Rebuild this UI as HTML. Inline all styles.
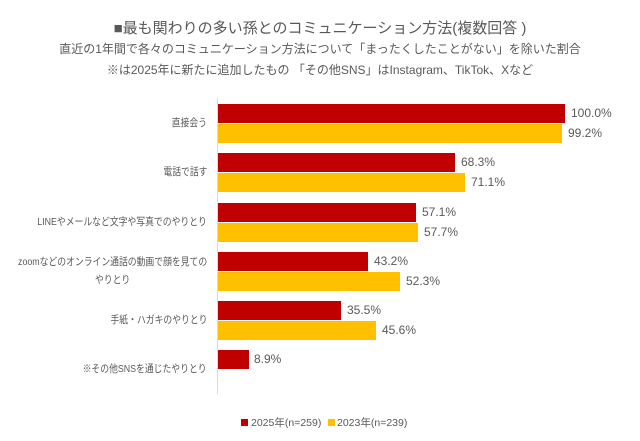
<!DOCTYPE html>
<html><head><meta charset="utf-8"><style>
body{margin:0;background:#fff;width:640px;height:441px;overflow:hidden;position:relative;font-family:"Liberation Sans","Noto Sans CJK JP",sans-serif;color:#595959}
.t{position:absolute;left:0;width:640px;text-align:center;white-space:nowrap}
.b{position:absolute;left:218px;height:19px}
.r{background:#c00000}.y{background:#ffc000}
.v{position:absolute;font-size:12px;color:#595959}
.l{position:absolute;right:433px;font-size:10.5px;text-align:center;color:#595959;line-height:18px;white-space:nowrap;transform:scaleX(0.84);transform-origin:right center}
</style></head><body>
<div class="t" style="top:17px;font-size:15px;color:#595959">■最も関わりの多い孫とのコミュニケーション方法(複数回答 )</div>
<div class="t" style="top:40px;font-size:12px">直近の1年間で各々のコミュニケーション方法について「まったくしたことがない」を除いた割合</div>
<div class="t" style="top:61px;font-size:12px">※は2025年に新たに追加したもの 「その他SNS」はInstagram、TikTok、Xなど</div>
<div style="position:absolute;left:217px;top:98px;width:1px;height:296px;background:#d9d9d9"></div>

<div class="b r" style="top:104px;width:347px"></div><div class="v" style="left:571px;top:106px">100.0%</div>
<div class="b y" style="top:124px;width:344px"></div><div class="v" style="left:568px;top:126px">99.2%</div>
<div class="l" style="top:114px">直接会う</div>

<div class="b r" style="top:153px;width:237px"></div><div class="v" style="left:461px;top:155px">68.3%</div>
<div class="b y" style="top:173px;width:247px"></div><div class="v" style="left:471px;top:175px">71.1%</div>
<div class="l" style="top:163px">電話で話す</div>

<div class="b r" style="top:203px;width:198px"></div><div class="v" style="left:422px;top:205px">57.1%</div>
<div class="b y" style="top:223px;width:200px"></div><div class="v" style="left:424px;top:225px">57.7%</div>
<div class="l" style="top:213px">LINEやメールなど文字や写真でのやりとり</div>

<div class="b r" style="top:252px;width:150px"></div><div class="v" style="left:374px;top:254px">43.2%</div>
<div class="b y" style="top:272px;width:182px"></div><div class="v" style="left:406px;top:274px">52.3%</div>
<div class="l" style="top:253px">zoomなどのオンライン通話の動画で顔を見ての<br>やりとり</div>

<div class="b r" style="top:301px;width:123px"></div><div class="v" style="left:347px;top:303px">35.5%</div>
<div class="b y" style="top:321px;width:158px"></div><div class="v" style="left:382px;top:323px">45.6%</div>
<div class="l" style="top:311px">手紙・ハガキのやりとり</div>

<div class="b r" style="top:350px;width:31px"></div><div class="v" style="left:254px;top:352px">8.9%</div>
<div class="l" style="top:360px">※その他SNSを通じたやりとり</div>

<div style="position:absolute;left:241px;top:419px;width:7px;height:7px;background:#c00000"></div>
<div style="position:absolute;left:251px;top:415px;font-size:10.5px">2025年(n=259)</div>
<div style="position:absolute;left:328px;top:419px;width:7px;height:7px;background:#ffc000"></div>
<div style="position:absolute;left:337px;top:415px;font-size:10.5px">2023年(n=239)</div>
</body></html>
